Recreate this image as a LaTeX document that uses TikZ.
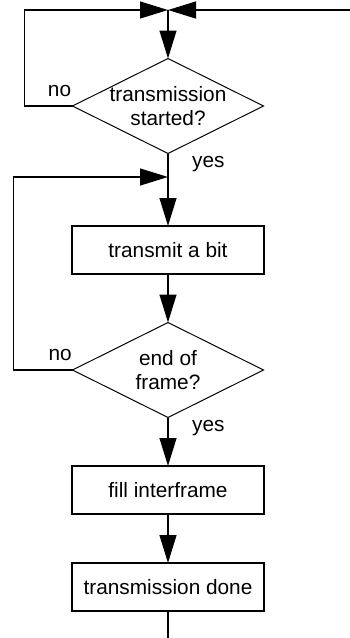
\documentclass[tikz,border=0pt]{standalone}
\usepackage{fontspec}
\setmainfont{Liberation Sans}
\usetikzlibrary{arrows.meta,shapes.geometric}

\begin{document}
\begin{tikzpicture}[
    >={Triangle[length=7mm,width=4.2mm]},
    font=\fontsize{14.8}{17}\selectfont,
    proc/.style={draw, line width=1.2pt, minimum width=4.8cm, minimum height=1.2cm, inner sep=0pt, outer sep=0pt},
    test/.style={draw, line width=0.7pt, diamond, aspect=2, inner xsep=-4mm, inner ysep=0pt,
                 minimum width=4.775cm, minimum height=2.375cm, align=center, outer sep=0pt},
    conn/.style={->, line width=1.4pt},
    lbl/.style={inner sep=0pt},
  ]
    \useasboundingbox (0,0) rectangle (8.75,-15.95);

    \coordinate (top)   at (4.2,-0.25);
    \coordinate (entry) at (8.75,-0.25);
    \coordinate (again) at (4.2,-4.425);
    \coordinate (exit)  at (4.2,-15.95);

    \node[test] (ask)   at (4.2,-2.65)   {transmission\\started?};
    \node[proc] (bit)   at (4.2,-6.25)   {transmit a bit};
    \node[test] (frame) at (4.2,-9.25)   {end of\\frame?};
    \node[proc] (fill)  at (4.2,-12.25)  {fill interframe};
    \node[proc] (done)  at (4.2,-14.675) {transmission done};

    % waiting loop at the top
    \draw[conn] (entry) -- (top);
    \draw[conn] (ask.west) -- node[lbl, above=2.2mm, pos=0.27] {no} ++(-1.2,0) |- (top);
    \draw[conn] (top) -- (ask);
    \draw[conn] (ask) -- node[lbl, right=5.8mm, pos=0.144] {yes} (bit);

    % bit loop
    \draw[conn] (frame.west) -- node[lbl, above=2.1mm, pos=0.21] {no} ++(-1.475,0) |- (again);
    \draw[conn] (frame) -- node[lbl, right=5.8mm, pos=0.22] {yes} (fill);

    \foreach \a/\b in {bit/frame, fill/done} \draw[conn] (\a) -- (\b);
    \draw[line width=1.4pt] (done) -- (exit);
  \end{tikzpicture}
\end{document}
